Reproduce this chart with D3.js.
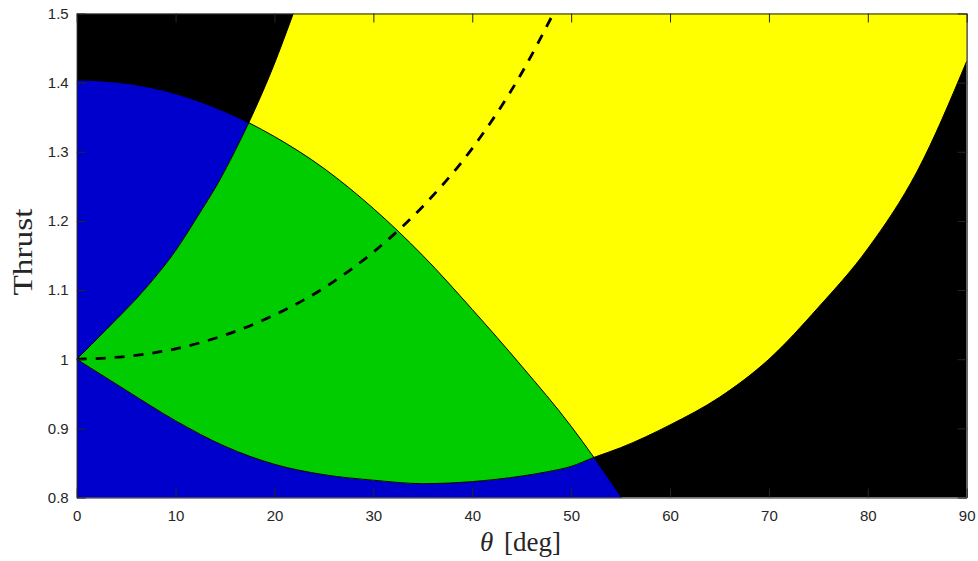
<!DOCTYPE html>
<html>
<head>
<meta charset="utf-8">
<script src="https://cdn.jsdelivr.net/npm/d3@7"></script>
<style>
  body { margin: 0; background: #fff; }
  svg { display: block; }
</style>
</head>
<body>
<svg id="chart" width="978" height="561"></svg>
<script>
const width = 978;
const height = 561;
const margin = { top: 13.5, right: 11.3, bottom: 63.5, left: 76.7 };

const xTicks = [0, 10, 20, 30, 40, 50, 60, 70, 80, 90];
const yTicks = [0.8, 0.9, 1, 1.1, 1.2, 1.3, 1.4, 1.5];

// top edge of the blue region
const blueTheta = [0, 5, 10, 15, 17.4, 20, 25, 30, 35, 40, 45, 50, 52.3, 55.1];
const blueThrust = [1.404, 1.399, 1.384, 1.358, 1.342, 1.322, 1.276, 1.218, 1.15, 1.072, 0.99, 0.903, 0.858, 0.8];

// left edge of the yellow band
const leftTheta = [0, 3, 7, 10, 12.2, 14.3, 16, 17.4, 19.9, 21.9];
const leftThrust = [1, 1.043, 1.103, 1.157, 1.206, 1.255, 1.301, 1.342, 1.424, 1.5];

// lower edge of the yellow band
const lowTheta = [0, 5, 10, 15, 20, 25, 30, 35, 40, 45, 47.5, 50, 52.3, 55, 60, 65, 70, 75, 80, 85, 90];
const lowThrust = [1, 0.955, 0.911, 0.874, 0.848, 0.833, 0.825, 0.82, 0.823, 0.831, 0.837, 0.845, 0.858, 0.872, 0.905, 0.945, 1, 1.075, 1.16, 1.272, 1.431];

// dashed curve
const dashTheta = [0, 5, 10, 15, 20, 25, 30, 35, 40, 45, 48.2];
const dashThrust = [1, 1.004, 1.015, 1.035, 1.064, 1.103, 1.155, 1.221, 1.305, 1.414, 1.5];

const pts = (xs, ys) => xs.map((t, i) => ({ t, v: ys[i] }));

const svg = d3.select('#chart');

const x = d3.scaleLinear()
  .domain([0, 90])
  .range([margin.left, width - margin.right]);

const y = d3.scaleLinear()
  .domain([0.8, 1.5])
  .range([height - margin.bottom, margin.top]);

const curve = d3.curveMonotoneX;
const line = d3.line()
  .x(d => x(d.t))
  .y(d => y(d.v))
  .curve(curve);

const blue = pts(blueTheta, blueThrust);
const left = pts(leftTheta, leftThrust);
const low = pts(lowTheta, lowThrust);
const dash = pts(dashTheta, dashThrust);

const x0 = x.range()[0];
const x1 = x.range()[1];
const yTop = y.range()[1];
const yBot = y.range()[0];

const blueArea = d3.area()
  .x(d => x(d.t))
  .y0(yBot + 5)
  .y1(d => y(d.v))
  .curve(curve);

// everything above the lower edge
const aboveLow = d3.area()
  .x(d => x(d.t))
  .y0(yTop - 5)
  .y1(d => y(d.v))
  .curve(curve);

// everything right of / below the left edge
const lastLeft = left[left.length - 1];
const rightOfLeftD = `${line(left)}`
  + `L${x(lastLeft.t)},${yTop - 5}`
  + `L${x1 + 5},${yTop - 5}`
  + `L${x1 + 5},${yBot + 5}`
  + `L${x0 - 5},${yBot + 5}`
  + `L${x0 - 5},${y(left[0].v)}Z`;

const defs = svg.append('defs');
defs.append('clipPath')
  .attr('id', 'plot-clip')
  .append('rect')
  .attr('x', x0)
  .attr('y', yTop)
  .attr('width', x1 - x0)
  .attr('height', yBot - yTop);

defs.append('clipPath')
  .attr('id', 'blue-clip')
  .append('path')
  .attr('d', blueArea(blue));

defs.append('clipPath')
  .attr('id', 'band-clip')
  .append('path')
  .attr('d', rightOfLeftD);

const plot = svg.append('g')
  .attr('clip-path', 'url(#plot-clip)');

plot.append('rect')
  .attr('x', x0)
  .attr('y', yTop)
  .attr('width', x1 - x0)
  .attr('height', yBot - yTop)
  .attr('fill', '#000');

plot.append('path')
  .attr('d', blueArea(blue))
  .attr('fill', '#0000cc');

const band = plot.append('g')
  .attr('clip-path', 'url(#band-clip)');

band.append('path')
  .attr('d', aboveLow(low))
  .attr('fill', '#ffff00');

band.append('g')
  .attr('clip-path', 'url(#blue-clip)')
  .append('path')
  .attr('d', aboveLow(low))
  .attr('fill', '#00cc00');

// region outlines
[blue, left, low].forEach((p) => {
  plot.append('path')
    .attr('d', line(p))
    .attr('fill', 'none')
    .attr('stroke', '#000')
    .attr('stroke-width', 1);
});

plot.append('path')
  .attr('d', line(dash))
  .attr('fill', 'none')
  .attr('stroke', '#000')
  .attr('stroke-width', 2.8)
  .attr('stroke-dasharray', '10,9');

// axes box
const fmt = d3.format('');
svg.append('g')
  .attr('class', 'axis')
  .attr('transform', `translate(0,${yBot})`)
  .call(d3.axisBottom(x).tickValues(xTicks).tickSizeInner(-9).tickSizeOuter(0)
    .tickPadding(13)
    .tickFormat(fmt));

svg.append('g')
  .attr('class', 'axis')
  .attr('transform', `translate(0,${yTop})`)
  .call(d3.axisTop(x).tickValues(xTicks).tickSizeInner(-9).tickSizeOuter(0)
    .tickFormat(() => ''));

svg.append('g')
  .attr('class', 'axis')
  .attr('transform', `translate(${x0},0)`)
  .call(d3.axisLeft(y).tickValues(yTicks).tickSizeInner(-9).tickSizeOuter(0)
    .tickPadding(8)
    .tickFormat(fmt));

svg.append('g')
  .attr('class', 'axis')
  .attr('transform', `translate(${x1},0)`)
  .call(d3.axisRight(y).tickValues(yTicks).tickSizeInner(-9).tickSizeOuter(0)
    .tickFormat(() => ''));

svg.selectAll('.axis .domain, .axis .tick line')
  .attr('stroke', '#262626');
svg.selectAll('.axis text')
  .attr('fill', '#262626')
  .attr('font-family', '"Liberation Sans", Arial, sans-serif')
  .attr('font-size', 15);

// axis titles
svg.append('text')
  .attr('transform', 'translate(32,252) rotate(-90)')
  .attr('text-anchor', 'middle')
  .attr('font-family', '"Liberation Serif", serif')
  .attr('font-size', 27)
  .attr('fill', '#262626')
  .attr('textLength', 87)
  .attr('lengthAdjust', 'spacingAndGlyphs')
  .text('Thrust');

const xTitle = svg.append('text')
  .attr('y', 551)
  .attr('font-family', '"Liberation Serif", serif')
  .attr('font-size', 27)
  .attr('fill', '#262626');
xTitle.append('tspan')
  .attr('x', 480)
  .attr('font-style', 'italic')
  .text('θ');
xTitle.append('tspan')
  .attr('x', 504)
  .text('[deg]');
</script>
</body>
</html>
